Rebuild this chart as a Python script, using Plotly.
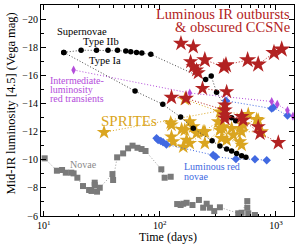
import plotly.graph_objects as go

# ---------------- data (time in days, Vega mag at 4.5 um) ----------------
sn_iib_t = [14.9, 21.0, 28.5, 35.8, 43.2, 50.9, 56.2, 63.0, 70.0, 83.6, 248, 277, 308, 415, 450]
sn_iib_m = [-17.63, -17.78, -17.78, -17.78, -17.78, -17.73, -17.68, -17.63, -17.58, -17.49,
            -15.71, -15.95, -14.79, -12.99, -12.77]

sn_ia_t = [14.9, 61.2, 106, 151, 194, 282, 329, 376, 415, 458, 506, 551]
sn_ia_m = [-17.63, -14.88, -13.94, -13.03, -12.23, -11.35, -10.97, -10.76, -10.62, -10.45, -10.28, -10.17]

ilrt_t = [18.1, 181, 918, 1026, 1256, 1400]
ilrt_m = [-16.38, -14.74, -14.14, -13.94, -13.50, -13.10]

lrn1_t = [371, 918, 948, 1256]
lrn1_m = [-14.19, -13.64, -13.71, -13.14]
lrn2_t = [93.7, 96.7, 102, 106.7, 114, 288, 302, 452, 659, 832]
lrn2_m = [-11.52, -11.40, -11.33, -11.24, -11.09, -10.33, -10.21, -10.05, -10.03, -9.96]

nova1_t = [10.2, 13.0, 14.4, 15.5, 17.3, 18.1, 19.5, 21.8, 24.6, 25.8, 27.5, 27.5, 28.8, 30.4,
           39.1, 39.6, 42.9, 48.3, 53.3, 58.2, 64.2, 69.6, 75.3, 103, 110, 124]
nova1_m = [-10.10, -9.22, -9.27, -9.08, -9.08, -9.03, -8.72, -8.13, -7.85, -7.78, -8.37, -8.20, -7.73, -8.01,
           -8.98, -8.56, -10.17, -10.45, -10.81, -11.00, -10.85, -10.76, -10.62, -9.32, -8.72, -8.79]
nova2_t = [141, 151, 159, 170, 191, 217, 236, 253, 270, 294, 329, 473, 506, 566, 566, 577, 659]
nova2_m = [-6.85, -6.78, -6.87, -6.94, -6.78, -7.14, -6.59, -6.87, -6.59, -6.35, -6.62, -6.19, -6.23,
           -7.06, -6.59, -6.19, -6.07]

sprite1_t = [164, 329, 577, 703]
sprite1_m = [-14.29, -13.41, -13.23, -12.82]
sprite2_t = [124, 154, 181, 194, 236, 318, 352, 415, 489, 523, 682]
sprite2_m = [-12.63, -12.16, -12.70, -12.35, -11.99, -12.70, -12.35, -12.23, -12.23, -12.47, -12.87]
sprite3_t = [126, 126, 164, 207, 244, 329, 340, 429, 506, 753]
sprite3_m = [-11.63, -12.47, -12.11, -11.88, -11.17, -12.11, -11.52, -11.76, -11.99, -11.99]
sprite4_t = [130, 159, 170, 181, 244, 340, 376, 489, 506]
sprite4_m = [-11.28, -10.92, -11.40, -11.17, -11.99, -12.23, -11.40, -11.28, -11.04]
sprite5_t = [33.1, 352]
sprite5_m = [-11.95, -13.53]

lirt1_t = [152, 194]
lirt1_m = [-18.27, -18.03]
lirt2_t = [184, 194, 207, 214]
lirt2_m = [-16.97, -16.61, -16.38, -16.18]
lirt3_t = [244, 356, 371, 570, 703, 961, 1120]
lirt3_m = [-17.09, -16.61, -16.73, -17.09, -16.78, -17.60, -17.85]
lirt4_t = [126, 168, 363, 363, 506, 522, 728, 1047]
lirt4_m = [-14.43, -14.36, -13.53, -12.94, -13.06, -12.82, -11.88, -11.21]
lirt5_t = [233, 376]
lirt5_m = [-15.07, -14.83]
lirt6_t = [363, 363, 703]
lirt6_m = [-13.89, -13.18, -12.35]

x_tickvals = [10, 100, 1000]
x_ticktext = ["10<sup>1</sup>", "10<sup>2</sup>", "10<sup>3</sup>"]
x_minor = [v * d for d in (1, 10, 100, 1000) for v in range(2, 10)]

# ---------------- colours ----------------
RED = "#b22222"
GOLD = "#daa520"
BLUE = "#4169e1"
PURPLE = "#b44ddb"
GRAY = "#7a7a7a"
BLACK = "#000000"
FONT = "Liberation Serif"

fig = go.Figure()


def add(t, m, color, symbol, size, line=True, linecolor=None):
    fig.add_trace(go.Scatter(
        x=t, y=m,
        mode="lines+markers" if line else "markers",
        line=dict(color=linecolor or color, width=1, dash="1px,2px"),
        marker=dict(symbol=symbol, size=size, color=color, line=dict(width=0)),
        showlegend=False, hoverinfo="skip"))


add(nova1_t, nova1_m, GRAY, "square", 6, linecolor="#999999")
add(nova2_t, nova2_m, GRAY, "square", 6, linecolor="#999999")

for t, m in [(sprite1_t, sprite1_m), (sprite2_t, sprite2_m), (sprite3_t, sprite3_m),
             (sprite4_t, sprite4_m), (sprite5_t, sprite5_m)]:
    add(t, m, GOLD, "star", 11)

add(lrn2_t, lrn2_m, BLUE, "diamond", 6.5)
add(lrn1_t, lrn1_m, BLUE, "diamond", 6.5)
add(ilrt_t, ilrt_m, PURPLE, "diamond-tall", 6.5)
add(sn_iib_t, sn_iib_m, BLACK, "circle", 5.5, linecolor="#444444")
add(sn_ia_t, sn_ia_m, BLACK, "circle", 5.5, linecolor="#444444")

for t, m, s in [(lirt1_t, lirt1_m, 12), (lirt2_t, lirt2_m, 11.5), (lirt3_t, lirt3_m, 13),
                (lirt4_t, lirt4_m, 12), (lirt5_t, lirt5_m, 11.5), (lirt6_t, lirt6_m, 11.5)]:
    add(t, m, RED, "star", s)

# ---------------- layout ----------------
X0, X1, Y0, Y1 = 41, 294, 5, 216


def px(x):
    return (x - X0) / (X1 - X0)


def py(y):
    return (Y1 - y) / (Y1 - Y0)


def label(text, x, y, color, size, xanchor="left", angle=0):
    fig.add_annotation(text=text, x=px(x), y=py(y), xref="paper", yref="paper",
                       xanchor=xanchor, yanchor="middle", showarrow=False, textangle=angle,
                       font=dict(family=FONT, size=size, color=color))


label("Luminous IR outbursts", 292, 14, RED, 14.5, "right")
label("&amp; obscured CCSNe", 292, 27, RED, 14.5, "right")
label("SPRITEs", 129, 121, GOLD, 15, "center")
label("Supernovae", 55, 31.5, BLACK, 10.5)
label("Type IIb", 81, 41.5, BLACK, 10.5)
label("Type Ia", 87, 60, BLACK, 10.5)
label("Intermediate-", 47.5, 80, PURPLE, 10)
label("luminosity", 47.5, 89.3, PURPLE, 10)
label("red transients", 47.5, 98.5, PURPLE, 10)
label("Novae", 67.5, 164, "#8a8a8a", 10)
label("Luminous red", 181.5, 166.7, BLUE, 10)
label("novae", 181.5, 176.3, BLUE, 10)
label("Mid-IR luminosity [4.5] (Vega mag)", 10.5, 104, BLACK, 12.5, "center", -90)
label("Time (days)", 168, 237.5, BLACK, 12, "center")

axis_common = dict(showline=True, linecolor=BLACK, linewidth=1, mirror="ticks",
                   ticks="inside", ticklen=5, tickwidth=1, tickcolor=BLACK,
                   showgrid=False, zeroline=False,
                   tickfont=dict(family=FONT, size=10, color=BLACK))

fig.update_layout(
    width=301, height=249,
    margin=dict(l=X0, r=301 - X1, t=Y0, b=249 - Y1),
    paper_bgcolor="white", plot_bgcolor="white",
    font=dict(family=FONT, color=BLACK),
    xaxis=dict(type="log", range=[0.977, 3.155], tickmode="array",
               tickvals=x_tickvals, ticktext=x_ticktext,
               minor=dict(tickmode="array", tickvals=x_minor, ticks="inside",
                          ticklen=2.5, tickwidth=0.8, tickcolor=BLACK),
               **axis_common),
    yaxis=dict(range=[-6, -21], tick0=-20, dtick=2,
               minor=dict(dtick=1, ticks="inside", ticklen=2.5, tickwidth=0.8, tickcolor=BLACK),
               **axis_common),
)

fig.write_html("out.html", config={"displayModeBar": False},
               post_script="document.body.style.margin='0';document.body.style.overflow='hidden';")
